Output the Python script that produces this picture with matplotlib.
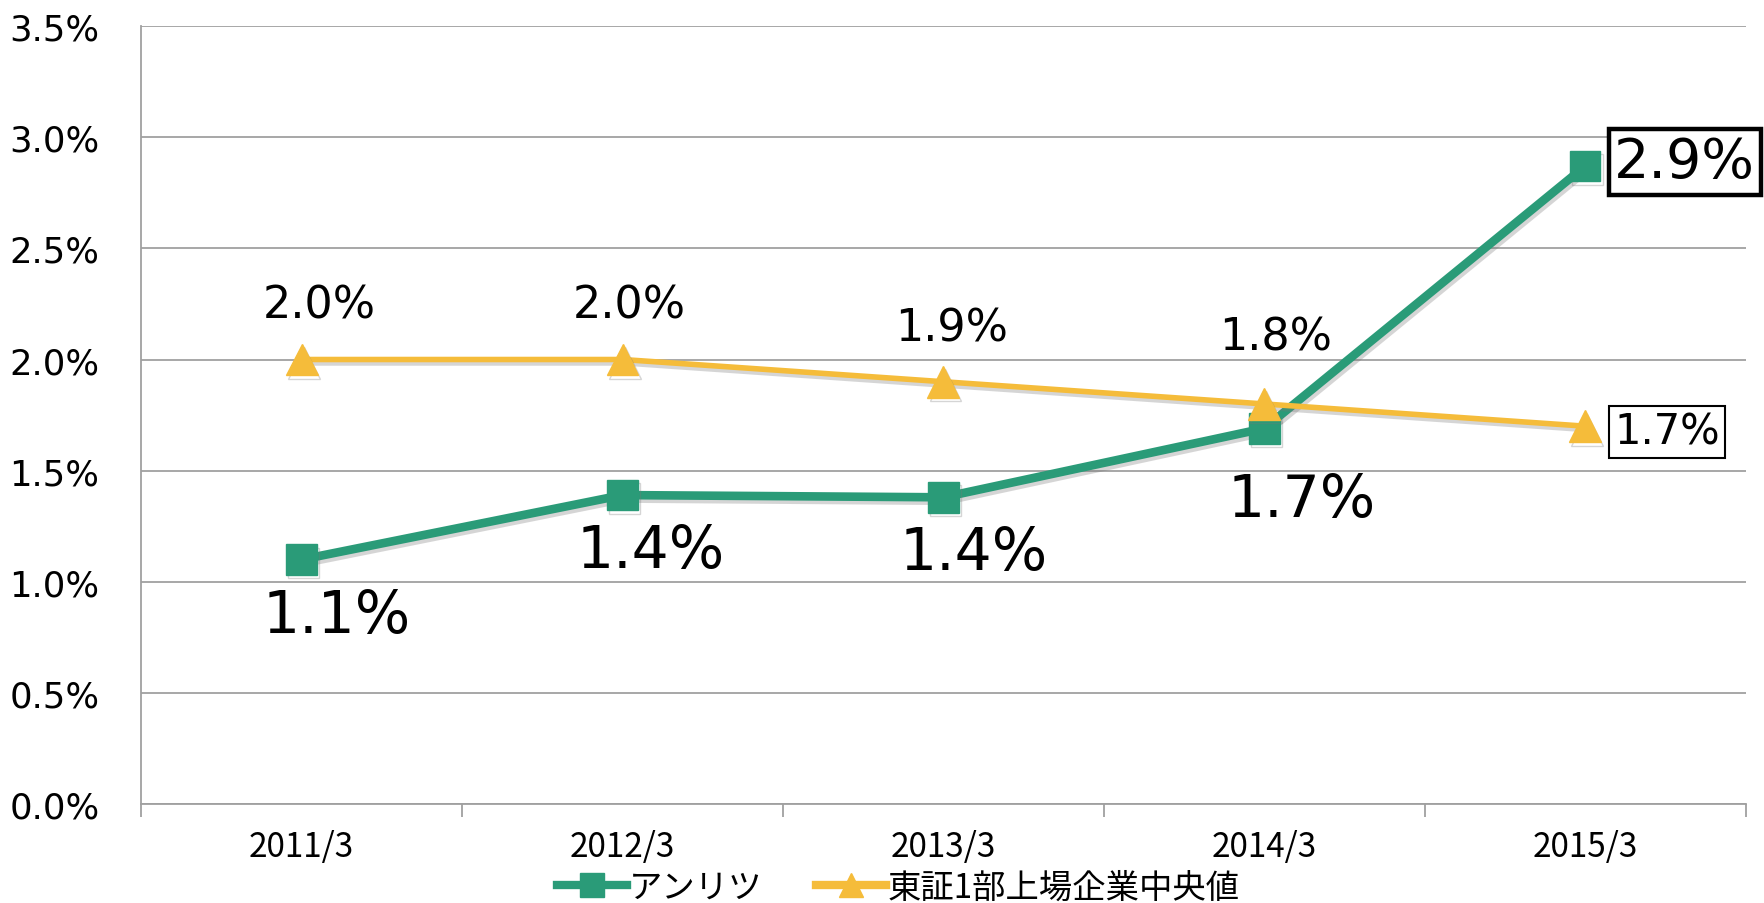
import matplotlib
matplotlib.use("Agg")
import matplotlib.pyplot as plt
import matplotlib.patheffects as pe
import numpy as np

plt.rcParams['font.family'] = ['Noto Sans CJK JP', 'DejaVu Sans']
NUMFONT = ['DejaVu Sans', 'Noto Sans CJK JP']

categories = ["2011/3", "2012/3", "2013/3", "2014/3", "2015/3"]
anritsu = [1.10, 1.39, 1.38, 1.69, 2.87]
anritsu_labels = ["1.1%", "1.4%", "1.4%", "1.7%", "2.9%"]
tse = [2.00, 2.00, 1.90, 1.80, 1.70]
tse_labels = ["2.0%", "2.0%", "1.9%", "1.8%", "1.7%"]
series_names = ["アンリツ", "東証1部上場企業中央値"]
yticks = [0.0, 0.5, 1.0, 1.5, 2.0, 2.5, 3.0, 3.5]

# label offsets (points) - styling only
green_off = [(25, -40), (20, -40), (22, -40), (27, -51)]
yellow_off = [(13, 39), (5, 39), (6, 39), (8, 48)]

GREEN = "#2A9B78"
YELLOW = "#F5BC3A"
GRID = "#A0A0A0"

fig = plt.figure(figsize=(17.65, 9.04), dpi=100)
ax = fig.add_axes([0.080, 0.1095, 0.909, 0.8605])
x = np.arange(len(categories))

shadow = [pe.SimpleLineShadow(offset=(1.5, -2.5), shadow_color="#777777", alpha=0.3), pe.Normal()]

ax.plot(x, anritsu, color=GREEN, lw=6.2, marker="s", ms=22, mfc=GREEN, mec=GREEN,
        label=series_names[0], zorder=4, path_effects=shadow)
ax.plot(x, tse, color=YELLOW, lw=4, marker="^", ms=23, mfc=YELLOW, mec=YELLOW,
        label=series_names[1], zorder=5, path_effects=shadow)

ax.set_xlim(-0.5, len(categories) - 0.5)
ax.set_ylim(0, 3.5)
ax.set_yticks(yticks)
ax.set_yticklabels([f"{v:.1f}%" for v in yticks], fontsize=25.5, family=NUMFONT)
ax.tick_params(axis="y", length=0, pad=30)
ax.set_xticks(x)
ax.set_xticklabels(categories, fontsize=24)
ax.tick_params(axis="x", which="major", length=0, pad=18)
ax.set_xticks(np.arange(-0.5, len(categories)), minor=True)
ax.tick_params(axis="x", which="minor", length=9, color=GRID, width=1.3)

ax.grid(axis="y", color=GRID, lw=1.3)
ax.set_axisbelow(True)
for s in ["top", "right"]:
    ax.spines[s].set_visible(False)
for s in ["left", "bottom"]:
    ax.spines[s].set_color(GRID)
    ax.spines[s].set_linewidth(1.3)

n = len(categories)
for i in range(n - 1):
    ax.annotate(anritsu_labels[i], (x[i], anritsu[i]), xytext=green_off[i],
                textcoords="offset points", ha="center", va="center", fontsize=42,
                family=NUMFONT, zorder=6)
    ax.annotate(tse_labels[i], (x[i], tse[i]), xytext=yellow_off[i],
                textcoords="offset points", ha="center", va="center", fontsize=32,
                family=NUMFONT, zorder=6)

ax.annotate(anritsu_labels[-1], (x[-1], anritsu[-1]), xytext=(21, 3),
            textcoords="offset points", ha="left", va="center", fontsize=40, zorder=6,
            family=NUMFONT,
            bbox=dict(boxstyle="square,pad=0.1", fc="white", ec="black", lw=3.2),
            annotation_clip=False)
ax.annotate(tse_labels[-1], (x[-1], tse[-1]), xytext=(21, -4),
            textcoords="offset points", ha="left", va="center", fontsize=30, zorder=6,
            family=NUMFONT,
            bbox=dict(boxstyle="square,pad=0.12", fc="white", ec="black", lw=1.5),
            annotation_clip=False)

leg = fig.legend(loc="center", bbox_to_anchor=(0.509, 0.017), ncol=2, frameon=False,
                 fontsize=24, handlelength=2.1, columnspacing=1.6, handletextpad=0.05,
                 borderaxespad=0)
for h in leg.get_lines():
    h.set_markersize(17)
    h.set_linewidth(6)
    h.set_path_effects([])

fig.savefig("out.png", dpi=100)
